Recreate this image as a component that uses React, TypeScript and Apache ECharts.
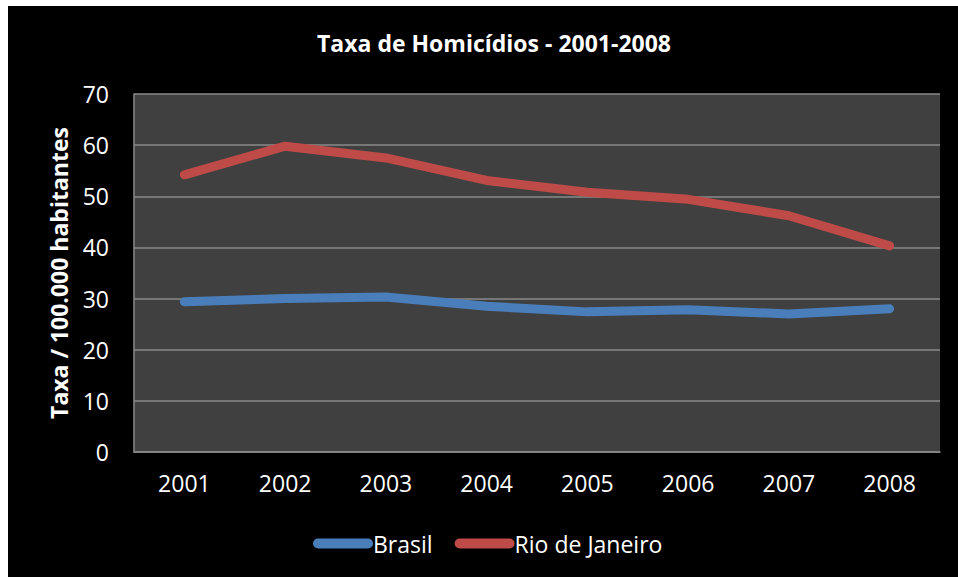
import React, { useEffect, useRef } from "react";
import * as echarts from "echarts";

const years = ["2001", "2002", "2003", "2004", "2005", "2006", "2007", "2008"];
const brasil = [29.4, 30.0, 30.3, 28.5, 27.4, 27.8, 27.0, 28.0];
const rioDeJaneiro = [54.2, 59.8, 57.5, 53.1, 50.8, 49.4, 46.2, 40.3];
const yTicks = { min: 0, max: 70, interval: 10 };

const FONT = "'Open Sans', 'Noto Sans', sans-serif";
const legendIcon = "path://M5,0 L55,0 A5,5 0 0 1 55,10 L5,10 A5,5 0 0 1 5,0 Z";

export default function App() {
  const ref = useRef<HTMLDivElement>(null);
  useEffect(() => {
    if (!ref.current) return;
    const chart = echarts.init(ref.current, undefined, { renderer: "svg" });
    chart.setOption({
      animation: false,
      backgroundColor: "#000000",
      textStyle: { fontFamily: FONT },
      title: {
        text: "Taxa de Homicídios - 2001-2008",
        left: 481,
        top: 20,
        textAlign: "center",
        textStyle: { color: "#ffffff", fontSize: 23, fontWeight: "bold", fontFamily: FONT },
      },
      legend: {
        left: 300,
        top: 521,
        itemWidth: 60,
        itemHeight: 10,
        itemGap: 22,
        icon: legendIcon,
        textStyle: { color: "#ffffff", fontSize: 23, fontFamily: FONT, padding: [0, 0, 0, -5] },
        data: ["Brasil", "Rio de Janeiro"],
      },
      grid: {
        left: 126,
        top: 88,
        right: 18,
        bottom: 125,
        show: true,
        backgroundColor: "#404040",
        borderWidth: 0,
        containLabel: false,
      },
      xAxis: {
        type: "category",
        data: years,
        boundaryGap: true,
        axisLine: { show: true, lineStyle: { color: "#8a8a8a", width: 1.5 } },
        axisTick: { show: false },
        axisLabel: { color: "#ffffff", fontSize: 23, margin: 19, fontFamily: FONT },
        splitLine: { show: false },
      },
      yAxis: {
        type: "value",
        min: yTicks.min,
        max: yTicks.max,
        interval: yTicks.interval,
        name: "Taxa / 100.000 habitantes",
        nameLocation: "middle",
        nameGap: 64,
        nameTextStyle: { color: "#ffffff", fontSize: 23, fontWeight: "bold", fontFamily: FONT },
        axisLine: { show: true, lineStyle: { color: "#8a8a8a", width: 1.5 } },
        axisTick: { show: false },
        axisLabel: { color: "#ffffff", fontSize: 23, margin: 25, fontFamily: FONT },
        splitLine: { show: true, lineStyle: { color: "#8a8a8a", width: 1.5 } },
      },
      series: [
        {
          name: "Brasil",
          type: "line",
          data: brasil,
          symbol: "none",
          color: "#4A7EBB",
          lineStyle: { width: 9, color: "#4A7EBB", cap: "round", join: "round" },
        },
        {
          name: "Rio de Janeiro",
          type: "line",
          data: rioDeJaneiro,
          symbol: "none",
          color: "#BE4B48",
          lineStyle: { width: 9, color: "#BE4B48", cap: "round", join: "round" },
        },
      ],
    });
    return () => chart.dispose();
  }, []);
  return (
    <div
      ref={ref}
      style={{ position: "absolute", left: 8, top: 6, width: 950, height: 571 }}
    />
  );
}
